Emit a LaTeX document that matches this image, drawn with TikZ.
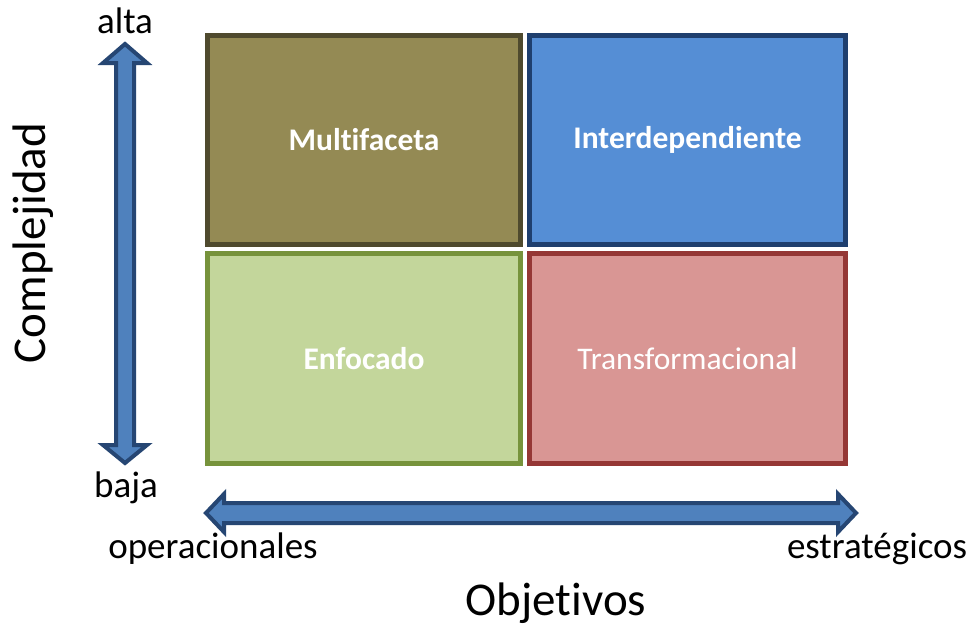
\documentclass[tikz,border=0pt]{standalone}
\usepackage{fontspec}
\setmainfont{Carlito}[Ligatures=NoCommon]
\definecolor{oliveFill}{HTML}{948A54}
\definecolor{oliveLine}{HTML}{4F4A2E}
\definecolor{blueFill}{HTML}{558ED5}
\definecolor{blueLine}{HTML}{1F3F6E}
\definecolor{greenFill}{HTML}{C3D69B}
\definecolor{greenLine}{HTML}{77933C}
\definecolor{redFill}{HTML}{D99694}
\definecolor{redLine}{HTML}{953735}
\definecolor{axisFill}{HTML}{4F81BD}
\definecolor{axisLine}{HTML}{264673}
\begin{document}
\begin{tikzpicture}[x=1pt,y=-1pt,
  quad/.style={draw, line width=5pt, inner sep=0pt, text=white,
    font=\fontsize{31.5}{36}\selectfont},
  axisarrow/.style={draw=axisLine, fill=axisFill, line width=4pt, line join=miter},
  axislabel/.style={font=\fontsize{37}{44}\selectfont, inner sep=0pt},
  axistitle/.style={font=\fontsize{47}{56}\selectfont, inner sep=0pt}]
\useasboundingbox (0,0) rectangle (973,626);
\fill[white] (0,0) rectangle (973,626);

% quadrants
\node[quad, fill=oliveFill, draw=oliveLine, minimum width=313pt, minimum height=208.5pt, font=\fontsize{31.5}{36}\selectfont\bfseries]
  (multi) at (364,139.75) {Multifaceta};
\node[quad, fill=blueFill, draw=blueLine, minimum width=316pt, minimum height=208.5pt, font=\fontsize{31.5}{36}\selectfont\bfseries]
  (inter) at (687.5,139.75) {Interdependiente};
\node[quad, fill=greenFill, draw=greenLine, minimum width=313pt, minimum height=209.5pt, font=\fontsize{31.5}{36}\selectfont\bfseries]
  (enfo) at (364,358.25) {Enfocado};
\node[quad, fill=redFill, draw=redLine, minimum width=316pt, minimum height=209.5pt]
  (trans) at (687.5,358.25) {Transformacional};

% vertical axis arrow
\path[axisarrow] (125,44) -- (147,63) -- (134,63) -- (134,445) -- (147,445)
  -- (125,463) -- (103,445) -- (116,445) -- (116,63) -- (103,63) -- cycle;
% horizontal axis arrow
\path[axisarrow] (206,513) -- (224,494) -- (224,503) -- (838,503) -- (838,494)
  -- (856,513) -- (838,532) -- (838,523) -- (224,523) -- (224,532) -- cycle;

% axis labels
\node[axislabel] (alta) at (125,21) {alta};
\node[axislabel] (baja) at (126,488) {baja};
\node[axislabel] (oper) at (213,549) {operacionales};
\node[axislabel] (estr) at (877,549) {estratégicos};
\node[axistitle, rotate=90] (compl) at (33,243) {Complejidad};
\node[axistitle] (obj) at (556,603) {Objetivos};
\end{tikzpicture}
\end{document}
